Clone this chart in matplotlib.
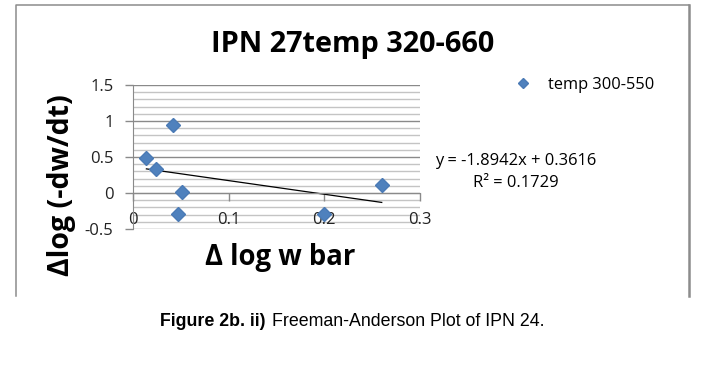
import numpy as np
import matplotlib
matplotlib.use("Agg")
import matplotlib.pyplot as plt
from matplotlib.lines import Line2D

# data
dlog_w = [0.014, 0.024, 0.0415, 0.051, 0.047, 0.200, 0.260]
dlog_rate = [0.48, 0.33, 0.95, 0.014, -0.29, -0.29, 0.115]
series_name = "temp 300-550"
slope, intercept = -1.8942, 0.3616
r2 = 0.1729
xticks = [0, 0.1, 0.2, 0.3]
yticks = [-0.5, 0, 0.5, 1, 1.5]

W, H = 722, 367
plt.rcParams['font.family'] = ['Open Sans', 'DejaVu Sans']

fig = plt.figure(figsize=(W / 100, H / 100), dpi=100)

def fx(px):
    return px / W

def fy(py):
    return 1 - py / H

# chart border (open at the bottom, cropped in the source)
fig.add_artist(Line2D([fx(16), fx(16), fx(689)], [fy(296), fy(5), fy(5)],
                      transform=fig.transFigure, color='#8c8c8c', lw=1.1))
fig.add_artist(Line2D([fx(689), fx(689)], [fy(5), fy(296)],
                      transform=fig.transFigure, color='#8c8c8c', lw=1.8))

ax = fig.add_axes([fx(133), fy(229), fx(420) - fx(133), fy(85) - fy(229)])
ax.set_xlim(0, 0.3)
ax.set_ylim(-0.5, 1.5)

# gridlines (minor every 0.1, major every 0.5)
for v in np.arange(-0.5, 1.5001, 0.1):
    major = abs(v * 2 - round(v * 2)) < 1e-6
    ax.axhline(v, color='#8a8a8a' if major else '#c4c4c4', lw=1.0, zorder=0)

ax.spines['top'].set_visible(False)
ax.spines['right'].set_visible(False)
ax.spines['bottom'].set_position(('data', 0))
ax.spines['bottom'].set_color('#8a8a8a')
ax.spines['left'].set_color('#8a8a8a')
ax.set_xticks(xticks)
ax.set_xticklabels(['0', '0.1', '0.2', '0.3'])
ax.set_yticks(yticks)
ax.set_yticklabels(['-0.5', '0', '0.5', '1', '1.5'])
ax.tick_params(axis='x', direction='out', length=6, width=1, color='#8a8a8a',
               pad=7.5, labelsize=12, labelcolor='#222222')
ax.tick_params(axis='y', direction='out', length=6, width=1, color='#8a8a8a',
               pad=8, labelsize=12, labelcolor='#222222')

ax.plot(dlog_w, dlog_rate, linestyle='none', marker='D', ms=7,
        color='#4F81BD', mec='#4A7AB5', label=series_name, zorder=3)

xs = np.array([min(dlog_w), max(dlog_w)])
ax.plot(xs, slope * xs + intercept, color='black', lw=0.9, zorder=2)

leg = ax.legend(loc='center left', bbox_to_anchor=(fx(515), fy(85)),
                bbox_transform=fig.transFigure, frameon=False,
                handlelength=1.0, handletextpad=1.0, borderpad=0,
                borderaxespad=0, markerscale=0.75, fontsize=11.8)

fig.text(fx(353), fy(52), "IPN 27temp 320-660", ha='center', va='baseline',
         fontsize=20.8, fontweight='bold')
fig.text(fx(62), fy(185), "Δlog (-dw/dt)", ha='center', va='center',
         rotation=90, fontsize=20.5, fontweight='bold')
fig.text(fx(280), fy(265), "Δ log w bar", ha='center', va='baseline',
         fontsize=19.8, fontweight='bold')

fig.text(fx(435), fy(161), f"y = {slope}x + {intercept}", ha='left',
         va='center', fontsize=11.9)
fig.text(fx(473), fy(183), f"R² = {r2}", ha='left', va='center', fontsize=11.9)

fig.text(fx(160), fy(322), "Figure 2b. ii)", ha='left', va='center',
         fontsize=12.8, fontweight='bold', family=['Liberation Sans', 'DejaVu Sans'])
fig.text(fx(272), fy(322), "Freeman-Anderson Plot of IPN 24.", ha='left',
         va='center', fontsize=12.8, family=['Liberation Sans', 'DejaVu Sans'])

fig.savefig("out.png", dpi=100)
